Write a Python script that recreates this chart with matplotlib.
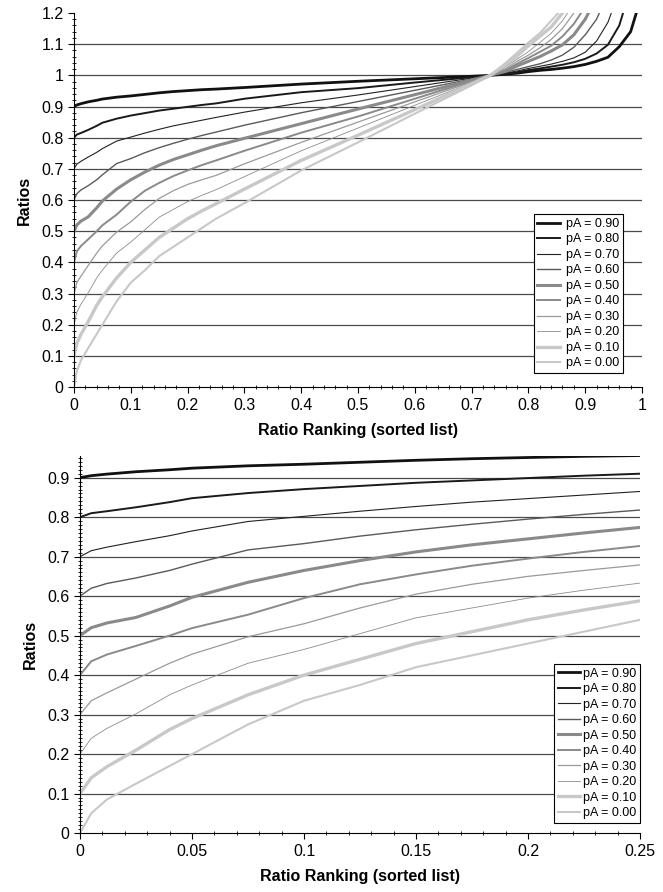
import matplotlib
matplotlib.use("Agg")
import matplotlib.pyplot as plt
from matplotlib.ticker import FixedLocator, MultipleLocator, FormatStrFormatter
import numpy as np

plt.rcParams['font.family'] = ['Liberation Sans', 'DejaVu Sans']

# ratio ranking positions (fraction of the sorted list)
rank = [0, 0.005, 0.012, 0.025, 0.04, 0.05, 0.075, 0.1, 0.125, 0.15, 0.175, 0.2, 0.225, 0.25,
        0.3, 0.4, 0.5, 0.6, 0.7, 0.733, 0.76, 0.78, 0.8, 0.82, 0.84, 0.86, 0.88, 0.9, 0.92,
        0.94, 0.96, 0.98, 1.0]

# ratios, one list per pA
ratio_090 = [0.900, 0.905, 0.909, 0.915, 0.920, 0.924, 0.930, 0.934, 0.939, 0.944, 0.948, 0.951, 0.954, 0.956,
             0.961, 0.972, 0.981, 0.989, 0.997, 1.000, 1.004, 1.007, 1.012, 1.016, 1.019, 1.023, 1.028, 1.035,
             1.045, 1.058, 1.092, 1.140, 1.260]
ratio_080 = [0.800, 0.810, 0.815, 0.825, 0.838, 0.848, 0.861, 0.871, 0.879, 0.887, 0.893, 0.899, 0.905, 0.910,
             0.925, 0.946, 0.959, 0.977, 0.994, 1.000, 1.005, 1.010, 1.017, 1.022, 1.028, 1.034, 1.042, 1.053,
             1.070, 1.098, 1.160, 1.280, 1.400]
ratio_070 = [0.700, 0.715, 0.724, 0.738, 0.753, 0.765, 0.789, 0.802, 0.815, 0.827, 0.838, 0.847, 0.856, 0.865,
             0.882, 0.912, 0.937, 0.964, 0.991, 1.000, 1.007, 1.014, 1.022, 1.029, 1.036, 1.045, 1.056, 1.074,
             1.110, 1.170, 1.270, 1.350, 1.400]
ratio_060 = [0.600, 0.620, 0.632, 0.646, 0.665, 0.681, 0.717, 0.733, 0.752, 0.768, 0.782, 0.795, 0.807, 0.818,
             0.840, 0.880, 0.916, 0.952, 0.988, 1.000, 1.010, 1.019, 1.028, 1.037, 1.049, 1.065, 1.090, 1.130,
             1.180, 1.260, 1.350, 1.400, 1.450]
ratio_050 = [0.500, 0.520, 0.532, 0.546, 0.575, 0.597, 0.635, 0.665, 0.690, 0.712, 0.730, 0.745, 0.760, 0.774,
             0.798, 0.845, 0.892, 0.938, 0.985, 1.000, 1.013, 1.030, 1.045, 1.060, 1.078, 1.098, 1.130, 1.180,
             1.250, 1.320, 1.400, 1.450, 1.500]
ratio_040 = [0.400, 0.435, 0.452, 0.474, 0.500, 0.519, 0.553, 0.595, 0.630, 0.655, 0.677, 0.695, 0.712, 0.727,
             0.758, 0.816, 0.868, 0.925, 0.982, 1.000, 1.017, 1.037, 1.056, 1.075, 1.095, 1.125, 1.165, 1.220,
             1.300, 1.360, 1.420, 1.470, 1.500]
ratio_030 = [0.300, 0.335, 0.355, 0.390, 0.430, 0.453, 0.497, 0.530, 0.570, 0.605, 0.630, 0.650, 0.665, 0.679,
             0.716, 0.785, 0.850, 0.915, 0.979, 1.000, 1.022, 1.045, 1.065, 1.088, 1.115, 1.150, 1.200, 1.260,
             1.320, 1.380, 1.430, 1.470, 1.500]
ratio_020 = [0.200, 0.240, 0.265, 0.302, 0.350, 0.375, 0.430, 0.465, 0.505, 0.545, 0.570, 0.595, 0.615, 0.633,
             0.675, 0.758, 0.831, 0.904, 0.976, 1.000, 1.028, 1.052, 1.076, 1.105, 1.135, 1.175, 1.230, 1.300,
             1.350, 1.400, 1.440, 1.470, 1.500]
ratio_010 = [0.100, 0.140, 0.168, 0.210, 0.262, 0.290, 0.350, 0.400, 0.440, 0.480, 0.510, 0.540, 0.565, 0.588,
             0.635, 0.727, 0.808, 0.890, 0.973, 1.000, 1.035, 1.062, 1.095, 1.125, 1.155, 1.200, 1.260, 1.320,
             1.370, 1.410, 1.450, 1.480, 1.500]
ratio_000 = [0.000, 0.050, 0.085, 0.125, 0.170, 0.200, 0.275, 0.335, 0.375, 0.420, 0.450, 0.480, 0.510, 0.540,
             0.590, 0.695, 0.785, 0.877, 0.968, 1.000, 1.040, 1.072, 1.105, 1.135, 1.175, 1.215, 1.280, 1.340,
             1.390, 1.430, 1.460, 1.490, 1.510]

series = [ratio_090, ratio_080, ratio_070, ratio_060, ratio_050,
          ratio_040, ratio_030, ratio_020, ratio_010, ratio_000]
labels = ["pA = 0.90", "pA = 0.80", "pA = 0.70", "pA = 0.60", "pA = 0.50",
          "pA = 0.40", "pA = 0.30", "pA = 0.20", "pA = 0.10", "pA = 0.00"]

# excel-ish grey ramp
colors = ['#111111', '#1a1a1a', '#222222', '#5a5a5a', '#8a8a8a',
          '#8a8a8a', '#9a9a9a', '#8c8c8c', '#c8c8c8', '#c8c8c8']
widths = [2.0, 1.4, 0.8, 1.0, 2.2, 1.4, 0.9, 0.6, 2.4, 1.5]


def draw_panel(ax, xmax, xmajor, xminor, ymax, yticks, yminor, legend_anchor, textpad):
    for ys, lab, c, lw in zip(series, labels, colors, widths):
        ax.plot(rank, ys, color=c, lw=lw, label=lab, solid_joinstyle='round')

    ax.set_xlim(0, xmax)
    ax.set_ylim(0, ymax)

    ax.xaxis.set_major_locator(MultipleLocator(xmajor))
    ax.xaxis.set_minor_locator(MultipleLocator(xminor))
    ax.xaxis.set_major_formatter(FormatStrFormatter('%g'))
    ax.yaxis.set_major_locator(FixedLocator(yticks))
    ax.yaxis.set_minor_locator(MultipleLocator(yminor))
    ax.yaxis.set_major_formatter(FormatStrFormatter('%g'))

    ax.tick_params(axis='both', which='major', direction='out', length=4, width=0.8,
                   labelsize=11.5, colors='black')
    ax.tick_params(axis='both', which='minor', direction='inout', length=3, width=0.6)
    ax.tick_params(axis='x', pad=4)

    ax.spines['top'].set_visible(False)
    ax.spines['right'].set_visible(False)

    # horizontal gridlines only, none at the very top
    for t in yticks:
        if t < ymax - 1e-9 and t > 0:
            ax.axhline(t, color='#4a4a4a', lw=0.9, zorder=0)

    ax.set_xlabel("Ratio Ranking (sorted list)", fontsize=11.5, fontweight='bold', labelpad=7)
    ax.set_ylabel("Ratios", fontsize=11.5, fontweight='bold', labelpad=7)

    leg = ax.legend(loc='lower right', bbox_to_anchor=legend_anchor, fontsize=9,
                    frameon=True, fancybox=False, framealpha=1, edgecolor='black',
                    handlelength=1.8, handletextpad=textpad, labelspacing=0.28,
                    borderpad=0.3, borderaxespad=0)
    leg.get_frame().set_linewidth(0.8)


fig = plt.figure(figsize=(6.63, 8.92), dpi=100)

ax_top = fig.add_axes([0.1116, 0.5661, 0.8567, 0.4193])
draw_panel(ax_top, 1.0, 0.1, 0.02, 1.2, [round(0.1 * i, 1) for i in range(13)], 0.02,
           (0.967, 0.037), 0.5)

ax_bot = fig.add_axes([0.1207, 0.0661, 0.8446, 0.4232])
draw_panel(ax_bot, 0.25, 0.05, 0.01, 0.956, [round(0.1 * i, 1) for i in range(10)], 0.01,
           (1.0, 0.027), 0.2)

fig.savefig("out.png", dpi=100)
